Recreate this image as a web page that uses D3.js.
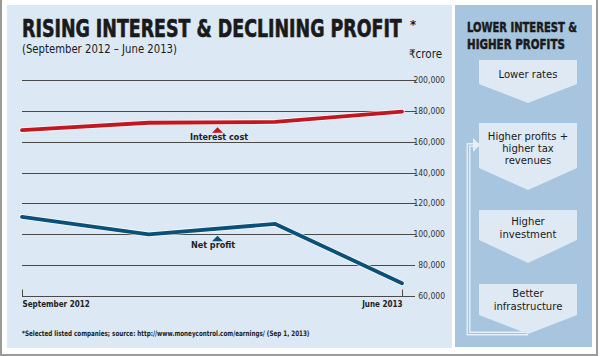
<!DOCTYPE html>
<html><head><meta charset="utf-8">
<script src="https://cdn.jsdelivr.net/npm/d3@7"></script>
<style>body{margin:0;background:#fff}svg{display:block}</style>
</head><body>
<svg id="c" width="600" height="356"></svg>
<script>
const quarters = ["Sep 2012", "Dec 2012", "Mar 2013", "Jun 2013"];
const interestCost = [167500, 172300, 172800, 179500];
const netProfit = [111300, 100000, 106700, 68300];
const yTicks = [60000, 80000, 100000, 120000, 140000, 160000, 180000, 200000];
const xTickLabels = ["September 2012", "June 2013"];
const steps = [["Lower rates"], ["Higher profits +", "higher tax", "revenues"], ["Higher", "investment"], ["Better", "infrastructure"]];

const FONT = "'Liberation Sans Narrow','DejaVu Sans Condensed','Roboto Condensed',sans-serif";
const svg = d3.select("#c");

// fit a text to a width by horizontal scaling
function fit(sel, x, yv, w) {
  const n = sel.node().getComputedTextLength();
  sel.attr("x", 0).attr("y", 0).attr("transform", `translate(${x},${yv}) scale(${w / n},1)`);
  return sel;
}

// frame & backgrounds
svg.append("rect").attr("x", 1).attr("y", -3).attr("width", 596).attr("height", 358)
  .attr("fill", "#fff").attr("stroke", "#9a9a9a").attr("stroke-width", 2);
svg.append("rect").attr("x", 7).attr("y", 5).attr("width", 445).attr("height", 343).attr("fill", "#dce8f4");
svg.append("rect").attr("x", 455).attr("y", 5).attr("width", 137).attr("height", 342).attr("fill", "#a7c5df");

// titles
fit(svg.append("text").attr("font-family", FONT).attr("font-weight", "bold")
  .attr("font-size", 24).attr("fill", "#1a1a1a").attr("stroke", "#1a1a1a").attr("stroke-width", 0.6)
  .text("RISING INTEREST & DECLINING PROFIT"), 22, 37, 380);
svg.append("text").attr("x", 410).attr("y", 29).attr("font-family", FONT).attr("font-weight", "bold")
  .attr("font-size", 13).attr("fill", "#1a1a1a").text("*");
fit(svg.append("text").attr("font-family", FONT)
  .attr("font-size", 11.5).attr("fill", "#1a1a1a")
  .text("(September 2012 – June 2013)"), 22, 53, 155);
svg.append("text").attr("x", 442).attr("y", 58).attr("text-anchor", "end").attr("font-family", FONT)
  .attr("font-size", 11.5).attr("fill", "#1a1a1a").text("₹crore");

// scales
const x = d3.scalePoint().domain(quarters).range([22, 402]);
const y = d3.scaleLinear().domain([60000, 200000]).range([296, 80]);

// gridlines
const g = svg.append("g");
g.selectAll("line.grid").data(yTicks).join("line").attr("class", "grid")
  .attr("x1", 22).attr("x2", d => d >= 100000 ? 416 : 415)
  .attr("y1", d => Math.round(y(d)) + 0.5).attr("y2", d => Math.round(y(d)) + 0.5)
  .attr("stroke", "#4a4a4a").attr("stroke-width", 1);

// y labels via axis
const yAxis = d3.axisLeft(y).tickValues(yTicks).tickSize(0).tickPadding(0).tickFormat(d3.format(","));
const ya = svg.append("g").attr("transform", "translate(445,2.5)").call(yAxis);
ya.select(".domain").remove();
ya.selectAll("text").attr("font-family", FONT).attr("font-size", 8.5).attr("fill", "#333").attr("dy", 0);

// x axis
const xAxis = d3.axisBottom(x).tickValues([quarters[0], quarters[3]]).tickSizeInner(-7).tickSizeOuter(0)
  .tickFormat((d, i) => xTickLabels[i]);
const xa = svg.append("g").attr("transform", "translate(0,296.5)").call(xAxis);
xa.select(".domain").remove();
xa.selectAll(".tick line").attr("stroke", "#4a4a4a");
xa.selectAll("text").attr("font-family", FONT).attr("font-weight", "bold").attr("font-size", 8)
  .attr("fill", "#222").attr("y", 10).attr("dy", 0)
  .attr("text-anchor", (d, i) => i === 0 ? "start" : "end");

// lines
const line = d3.line().x((d, i) => x(quarters[i])).y(d => y(d));
[[interestCost, "#c2171f"], [netProfit, "#0b5079"]].forEach(([data, col]) => {
  svg.append("path").datum(data).attr("d", line).attr("fill", "none")
    .attr("stroke", "#fff").attr("stroke-opacity", 0.8).attr("stroke-width", 5.5).attr("stroke-linecap", "round");
  svg.append("path").datum(data).attr("d", line).attr("fill", "none")
    .attr("stroke", col).attr("stroke-width", 3.8).attr("stroke-linecap", "round").attr("stroke-linejoin", "round");
});

// annotations
function annotate(data, label, col, ax, off, lx) {
  const xi0 = x(quarters[1]), xi1 = x(quarters[2]);
  const t = (ax - xi0) / (xi1 - xi0);
  const ly = y(data[1]) + t * (y(data[2]) - y(data[1]));
  const apex = ly + off;
  svg.append("path").attr("d", `M${ax},${apex}L${ax + 5.5},${apex + 5.5}L${ax - 5.5},${apex + 5.5}Z`).attr("fill", col);
  svg.append("text").attr("x", lx).attr("y", apex + 12.5).attr("text-anchor", "middle")
    .attr("font-family", FONT).attr("font-weight", "bold").attr("font-size", 9).attr("fill", "#222").text(label);
}
annotate(interestCost, "Interest cost", "#c2171f", 217.5, 5, 219);
annotate(netProfit, "Net profit", "#0b5079", 217.5, 7, 213);

// footnote
fit(svg.append("text").attr("font-family", FONT).attr("font-weight", "bold")
  .attr("font-size", 7.5).attr("fill", "#222")
  .text("*Selected listed companies; source: http://www.moneycontrol.com/earnings/ (Sep 1, 2013)"), 22, 336, 288);

// right panel
const rp = svg.append("g");
fit(rp.append("text").attr("font-family", FONT).attr("font-weight", "bold")
  .attr("font-size", 14.5).attr("fill", "#1a1a1a").attr("stroke", "#1a1a1a").attr("stroke-width", 0.5)
  .text("LOWER INTEREST &"), 467, 31.5, 110);
fit(rp.append("text").attr("font-family", FONT).attr("font-weight", "bold")
  .attr("font-size", 14.5).attr("fill", "#1a1a1a").attr("stroke", "#1a1a1a").attr("stroke-width", 0.5)
  .text("HIGHER PROFITS"), 467, 48.5, 98);

// connector frame line
const conn = "M479,145 L468.5,145 L468.5,333.5 L528,333.5";
rp.append("path").attr("d", conn).attr("fill", "none").attr("stroke", "#e6eef7").attr("stroke-width", 4);
rp.append("path").attr("d", conn).attr("fill", "none").attr("stroke", "#a7c5df").attr("stroke-width", 1.2);
rp.append("path").attr("d", "M473,138 L480,145 L473,152 Z").attr("fill", "#e6eef7");

const layout = [[60, 84, 103], [123, 168, 190], [210, 240, 263], [284, 315, 334]];
const textBase = [[77.5], [140, 152, 164], [225, 237.5], [297, 310]];
const cx0 = 479, cx1 = 577, cxm = (cx0 + cx1) / 2;
steps.forEach((lines, i) => {
  const [t, b, p] = layout[i];
  rp.append("path").attr("d", `M${cx0},${t}L${cx1},${t}L${cx1},${b}L${cxm},${p}L${cx0},${b}Z`).attr("fill", "#dfe9f4");
  lines.forEach((s, j) => {
    rp.append("text").attr("x", cxm).attr("y", textBase[i][j]).attr("text-anchor", "middle")
      .attr("font-family", FONT).attr("font-size", 11.2).attr("fill", "#1a1a1a").text(s);
  });
});
</script>
</body></html>
